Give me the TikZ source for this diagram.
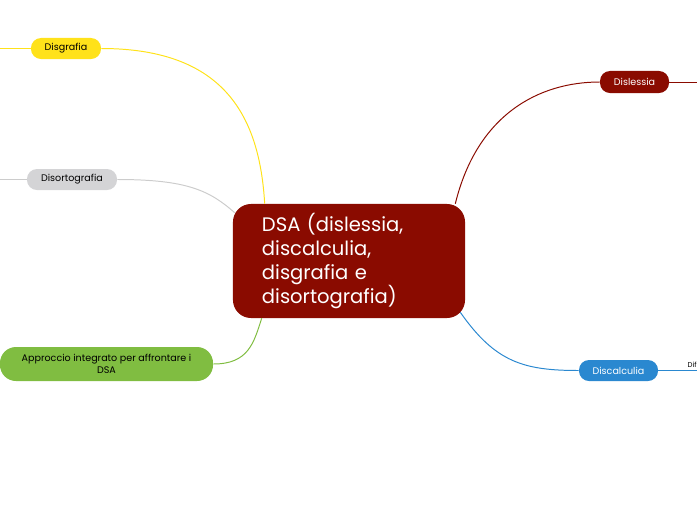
\documentclass[tikz,border=0pt]{standalone}
\usepackage{fontspec}
\setmainfont{Poppins}
\usetikzlibrary{
    positioning,
    calc
}
\definecolor{RossoScuro}{HTML}{8A0B00}
\definecolor{Giallo}{HTML}{FFE21A}
\definecolor{GrigioNodo}{HTML}{D4D4D6}
\definecolor{GrigioLinea}{HTML}{CCCCCC}
\definecolor{Verde}{HTML}{80BD41}
\definecolor{Blu}{HTML}{2A88D0}

\tikzset{
    ramo/.style={
        rounded corners=0.25cm,
        inner sep=0pt,
        minimum height=0.525cm,
        align=center,
        font=\fontsize{6.8}{8.5}\selectfont
    },
    linea/.style={line width=0.7pt}
}

\begin{document}
\begin{tikzpicture}[x=0.025cm, y=-0.025cm]
                \useasboundingbox (0,0) rectangle (697,520);
                % nodo centrale
                \node[
                    fill=RossoScuro,
                    rounded corners=0.45cm,
                    minimum width=5.8cm,
                    minimum height=2.85cm,
                    text width=4.35cm,
                    inner sep=0pt,
                    align=left,
                    text=white,
                    font=\fontsize{13.9}{17}\selectfont
                ] (dsa) at (349,261) {DSA (dislessia,\\
                    discalculia,\\
                    disgrafia e\\
                    disortografia)};
                % rami
                \node[ramo, fill=Giallo, minimum width=1.75cm] (disgrafia) at (66,48.5) {Disgrafia};
                \node[ramo, fill=GrigioNodo, minimum width=2.25cm] (disortografia) at (72,179.5) {Disortografia};
                \node[ramo, fill=Verde, minimum width=5.325cm, minimum height=0.85cm, rounded corners=0.4cm] (approccio) at (106.5,364) {Approccio integrato per affrontare i\\DSA};
                \node[ramo, fill=RossoScuro, text=white, minimum width=1.725cm, minimum height=0.55cm] (dislessia) at (634.5,82) {Dislessia};
                \node[ramo, fill=Blu, text=white, minimum width=1.975cm] (discalculia) at (618.5,370.5) {Discalculia};
                \node[anchor=south west, inner sep=1pt, font=\fontsize{5}{6}\selectfont] (dif) at (686,369) {Dif};
                % estremi liberi
                \coordinate (sxDisgrafia) at (0,48.5);
                \coordinate (sxDisortografia) at (0,179.5);
                \coordinate (dxDislessia) at (697,82);
                \coordinate (dxDiscalculia) at (697,370.5);
                % connettori
                \draw[linea, Giallo] (disgrafia.east) .. controls +(125,0) and +(-5,-85) .. ($(dsa.north west)+(32,0)$);
                \draw[linea, GrigioLinea] (disortografia.east) .. controls +(70,0) and +(-25,-22) .. ($(dsa.north west)+(2,9)$);
                \draw[linea, Verde] (approccio.east) .. controls +(35,0) and +(-8,25) .. ($(dsa.south west)+(29,0)$);
                \draw[linea, RossoScuro] ($(dsa.north east)+(-10,0)$) .. controls +(22,-90) and +(-60,0) .. (dislessia.west);
                \draw[linea, Blu] ($(dsa.south east)+(-5,-6)$) .. controls +(35,50) and +(-55,0) .. (discalculia.west);
                \draw[linea, Giallo] (sxDisgrafia) -- (disgrafia.west);
                \draw[linea, GrigioLinea] (sxDisortografia) -- (disortografia.west);
                \draw[linea, RossoScuro] (dislessia.east) -- (dxDislessia);
                \draw[linea, Blu] (discalculia.east) -- (dxDiscalculia);
            \end{tikzpicture}
\end{document}
